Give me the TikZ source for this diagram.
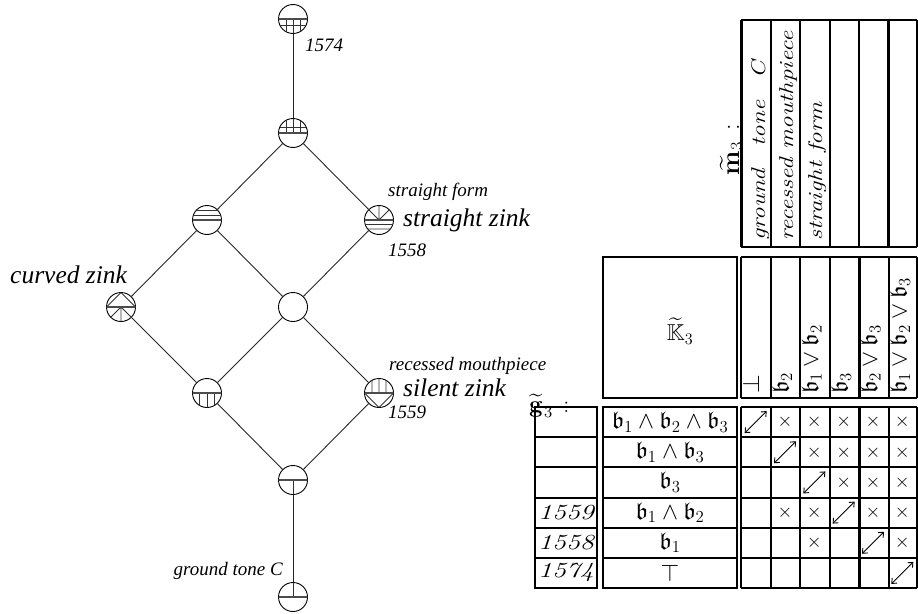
\RequirePackage{fix-cm}
\documentclass[tikz,border=0pt]{standalone}
\usepackage{amssymb}
\usepackage{graphicx}
\usepackage[no-math]{fontspec}
\usetikzlibrary{arrows.meta}
\newfontfamily\tms{Liberation Serif}
\newcommand\fsz[1]{\fontsize{#1}{#1}\selectfont}
\newcommand\glyphat[2]{\begin{scope}\clip (#1.center) circle[radius=14.5];\begin{scope}[shift={(#1.center)}]#2\end{scope}\end{scope}}
\begin{document}
\begin{tikzpicture}[x=1pt,y=-1pt,
  lat/.style={draw, circle, minimum size=29pt, inner sep=0pt, line width=0.9pt},
  edge/.style={line width=0.9pt, draw=black!85},
  gl/.style={line width=0.8pt, draw=black!80},
  gc/.style={line width=1.4pt, draw=black!70},
  tb/.style={line width=2pt},
  tbk/.style={line width=3pt},
  small/.style={font=\tms\itshape\fsz{19}, inner sep=0pt},
  big/.style={font=\tms\itshape\fsz{25.5}, inner sep=0pt},
  rotl/.style={font=\itshape\fsz{20}, inner sep=0pt, rotate=90, anchor=base west},
  rotm/.style={font=\fsz{24}, inner sep=0pt, rotate=90, anchor=base west},
  rowl/.style={font=\fsz{24}, inner sep=0pt},
  numl/.style={font=\itshape\fsz{21.5}, inner sep=0pt},
  crs/.style={font=\fsz{19}, inner sep=0pt},
  darr/.style={line width=0.9pt, {Straight Barb[length=4pt,width=7pt]}-{Straight Barb[length=4pt,width=7pt]}},
]
\useasboundingbox (0,0) rectangle (918,613);

% ---------- lattice ----------
\node[lat] (T)  at (293,19)  {};
\node[lat] (A)  at (293,133) {};
\node[lat] (L1) at (207,220) {};
\node[lat] (R1) at (379,220) {};
\node[lat] (CZ) at (121,307) {};
\node[lat] (C)  at (293,307) {};
\node[lat] (L2) at (207,393) {};
\node[lat] (SZ) at (379,393) {};
\node[lat] (B)  at (293,480) {};
\node[lat] (BB) at (293,597) {};

\draw[edge] (T) -- (A);
\draw[edge] (A) -- (L1);
\draw[edge] (A) -- (R1);
\draw[edge] (L1) -- (CZ);
\draw[edge] (L1) -- (C);
\draw[edge] (R1) -- (C);
\draw[edge] (CZ) -- (L2);
\draw[edge] (C) -- (L2);
\draw[edge] (C) -- (SZ);
\draw[edge] (L2) -- (B);
\draw[edge] (SZ) -- (B);
\draw[edge] (B) -- (BB);

\glyphat{T}{\draw[gl] (-7,0)--(-7,15) (0,0)--(0,15) (7,0)--(7,15) (-15,6)--(15,6); \draw[gc] (-15,0)--(15,0);}
\glyphat{A}{\draw[gl] (-7,0)--(-7,-15) (0,0)--(0,-15) (7,0)--(7,-15) (-15,-6)--(15,-6); \draw[gc] (-15,0)--(15,0);}
\glyphat{L1}{\draw[gl] (-15,-9.5)--(15,-9.5) (-15,-4.5)--(15,-4.5); \draw[gc] (-15,0)--(15,0);}
\glyphat{R1}{\draw[gl] (0,0)--(0,-15) (0,0)--(-11,-11) (0,0)--(11,-11) (-15,4.5)--(15,4.5) (-15,9)--(15,9); \draw[gc] (-15,0)--(15,0);}
\glyphat{CZ}{\draw[gl] (-14.5,0)--(0,-14.5)--(14.5,0) (0,0)--(0,15) (0,0)--(-11,11) (0,0)--(11,11); \draw[gc] (-15,0)--(15,0);}
\glyphat{L2}{\draw[gl] (-7.5,0)--(-7.5,15) (0,0)--(0,15) (7.5,0)--(7.5,15); \draw[gc] (-15,0)--(15,0);}
\glyphat{SZ}{\draw[gl] (-7,0)--(-7,-15) (0,0)--(0,-15) (7,0)--(7,-15) (-14.5,0)--(0,14.5)--(14.5,0); \draw[gc] (-15,0)--(15,0);}
\glyphat{B}{\draw[gl] (0,0)--(0,15); \draw[gc] (-15,0)--(15,0);}
\glyphat{BB}{\draw[gl] (0,0)--(0,-15); \draw[gc] (-15,0)--(15,0);}

\node[small, anchor=base west] (l1574) at (305,51) {1574};
\node[small, anchor=base west] (lsf) at (388,196) {straight form};
\node[big, anchor=base west] (lsz) at (403,226) {straight zink};
\node[small, anchor=base west] (l1558) at (388,256) {1558};
\node[big, anchor=base west] (lcz) at (10,283) {curved zink};
\node[small, anchor=base west] (lrm) at (389,370) {recessed mouthpiece};
\node[big, anchor=base west] (lslz) at (403,396) {silent zink};
\node[small, anchor=base west] (l1559) at (388,418) {1559};
\node[small, anchor=base east] (lgt) at (283,575) {ground tone C};

% ---------- attribute table (top) ----------
\foreach \x in {770.5,800,829.5,859,917} \draw[tb] (\x,20) -- (\x,247);
\foreach \x in {741,888.5} \draw[tbk] (\x,20) -- (\x,247);
\draw[tb] (741,20) -- (917,20);
\draw[tb] (741,247) -- (917,247);
\node[rotm, font=\fsz{26}] (mtil) at (739,176) {$\widetilde{\mathbf{m}\kern1pt}_3\,:$};
\node[rotl] (hgt) at (765,241) {\scalebox{1.25}[1]{ground\hspace{0.9em}tone\hspace{0.9em}C}};
\node[rotl] (hrm) at (793,241) {\scalebox{1.25}[1]{recessed mouthpiece}};
\node[rotl] (hsf) at (822,241) {\scalebox{1.25}[1]{straight form}};

% ---------- main table header ----------
\draw[tb] (603,257) rectangle (737,398);
\draw[tb] (741,257) -- (917,257);
\draw[tb] (741,398) -- (917,398);
\foreach \x in {741,770.5,800,829.5,888.5,917} \draw[tb] (\x,257) -- (\x,398);
\draw[tbk] (859,257) -- (859,398);
\node[font=\fsz{23}, inner sep=0pt] (K3) at (680,331) {$\widetilde{\mathbb{K}}_3$};
\node[font=\fsz{24}, inner sep=0pt, anchor=base west] (g3) at (529,412) {$\widetilde{\mathbf{g}\kern1pt}_3\,:$};
\node[rotm] (c1) at (759,394) {$\bot$};
\node[rotm] (c2) at (788.5,394) {$\mathfrak{b}_2$};
\node[rotm] (c3) at (818,394) {$\mathfrak{b}_1\vee\mathfrak{b}_2$};
\node[rotm] (c4) at (847.5,394) {$\mathfrak{b}_3$};
\node[rotm] (c5) at (877,394) {$\mathfrak{b}_2\vee\mathfrak{b}_3$};
\node[rotm] (c6) at (906.5,394) {$\mathfrak{b}_1\vee\mathfrak{b}_2\vee\mathfrak{b}_3$};

% ---------- main table body ----------
\draw[tb] (535,407) rectangle (597,588);
\draw[tb] (603,407) rectangle (737,588);
\draw[tb] (741,407) -- (917,407);
\draw[tb] (741,588) -- (917,588);
\foreach \y in {437.2,467.4,497.6,527.8,558} {
  \draw[tb] (535,\y) -- (597,\y);
  \draw[tb] (603,\y) -- (737,\y);
  \draw[tb] (741,\y) -- (917,\y);
}
\foreach \x in {741,770.5,800,829.5,888.5,917} \draw[tb] (\x,407) -- (\x,588);
\draw[tbk] (859,407) -- (859,588);

\node[rowl] (r1) at (670,422.1) {$\mathfrak{b}_1\wedge\mathfrak{b}_2\wedge\mathfrak{b}_3$};
\node[rowl] (r2) at (670,452.3) {$\mathfrak{b}_1\wedge\mathfrak{b}_3$};
\node[rowl] (r3) at (670,482.4) {$\mathfrak{b}_3$};
\node[rowl] (r4) at (670,512.6) {$\mathfrak{b}_1\wedge\mathfrak{b}_2$};
\node[rowl] (r5) at (670,542.8) {$\mathfrak{b}_1$};
\node[rowl] (r6) at (670,572.9) {$\top$};

\node[numl] (n4) at (566,512.6) {\scalebox{1.3}[1]{1559}};
\node[numl] (n5) at (566,542.8) {\scalebox{1.3}[1]{1558}};
\node[numl] (n6) at (566,572.9) {\scalebox{1.3}[1]{1574}};

% crosses: row/col
\foreach \r/\c in {1/2,1/3,1/4,1/5,1/6, 2/3,2/4,2/5,2/6, 3/4,3/5,3/6, 4/2,4/3,4/5,4/6, 5/3,5/6} {
  \pgfmathsetmacro\cx{741+29.33*(\c-0.5)}
  \pgfmathsetmacro\cy{407+30.17*(\r-0.5)}
  \node[crs] (x\r\c) at (\cx,\cy) {$\times$};
}
% double arrows
\foreach \r/\c in {1/1,2/2,3/3,4/4,5/5,6/6} {
  \pgfmathsetmacro\cx{741+29.33*(\c-0.5)}
  \pgfmathsetmacro\cy{407+30.17*(\r-0.5)}
  \coordinate (a\r\c) at (\cx,\cy);
  \draw[darr] ([shift={(-11,11)}]a\r\c) -- ([shift={(11,-11)}]a\r\c);
}
\end{tikzpicture}
\end{document}
